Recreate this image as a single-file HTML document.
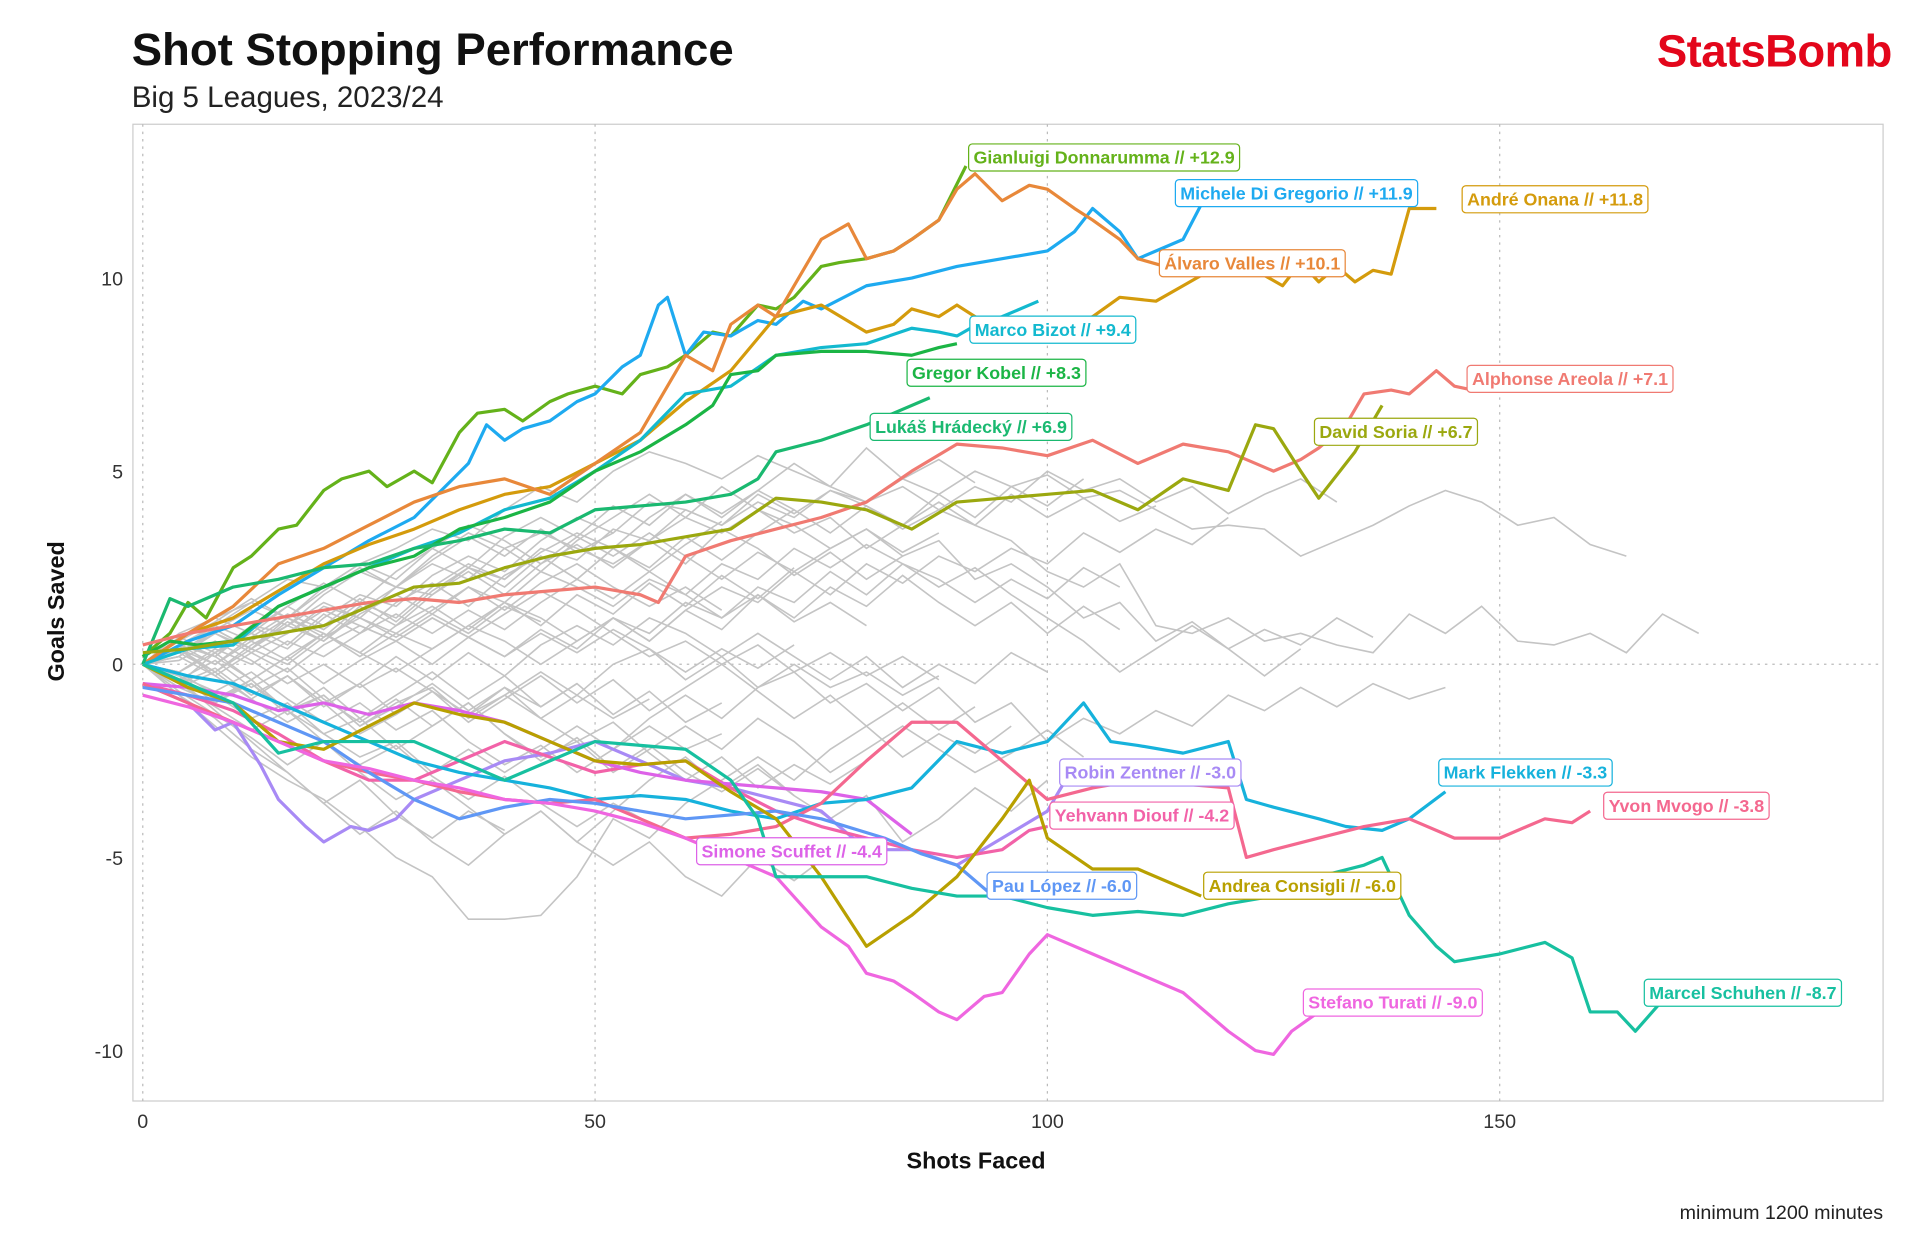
<!DOCTYPE html>
<html><head><meta charset="utf-8"><style>
html,body{margin:0;padding:0;background:#fff;}
svg{display:block;font-family:"Liberation Sans",sans-serif;}
</style></head><body>
<svg id="chart" width="1920" height="1240" viewBox="0 0 1560 1008" preserveAspectRatio="none">
<text x="107" y="53" font-size="37" font-weight="bold" fill="#111">Shot Stopping Performance</text>
<text x="107" y="87" font-size="24" fill="#222">Big 5 Leagues, 2023/24</text>
<text x="1537" y="54" font-size="37" font-weight="bold" fill="#e3061b" text-anchor="end" letter-spacing="-0.5">StatsBomb</text>
<rect x="108" y="101" width="1422" height="794" fill="#fff" stroke="#ccc" stroke-width="1"/>
<g id="grid"></g><g id="grey"></g><g id="hl"></g><g id="labels"></g><g id="axes"></g>
<text transform="translate(52,497) rotate(-90)" font-size="19" font-weight="bold" text-anchor="middle" fill="#111">Goals Saved</text>
<text x="793" y="950" font-size="19" font-weight="bold" text-anchor="middle" fill="#111">Shots Faced</text>
<text x="1530" y="991" font-size="16" text-anchor="end" fill="#222">minimum 1200 minutes</text>
</svg>
<script>
const xTicks=[0,50,100,150];
const yTicks=[-10,-5,0,5,10];
const greyStep=4;
const greySeries=[
[0,0.5,0.2,1,0.8,1.5,1.2,2,1.8,2.5,2.2,3,2.7,3.5,3.2,4,3.6,4.2,3.8,4.5,4.2,4.8,4.4,5,4.6,4.9,4.3,4.5,4,3.5,3.6,3.5,2.8,3.2,3.6,4.1,4.5,4.2,3.6,3.8,3.1,2.8],
[0,0.8,1.2,1.6,2.2,2,2.6,3,3.5,3.2,4,4.6,4.2,5,5.5,5.2,4.8,5.4,5,4.6,4.2,4.6,4,3.6,3.2,2.4,2,2.6,1,0.8,1.2,0.6,0.8,0.5,0.3,1.3,0.8,1.5,0.6,0.5,0.8,0.3,1.3,0.8],
[0,-0.5,0.3,0.8,0.4,1.2,1.8,1.5,2.3,2.8,2.4,3.2,3.8,3.4,4.2,4,3.6,4.4,3.9,4.5,4.1,3.5,4,4.6,4.2,5,4.5,4.8,4.2,4.6,3.9,4.4,4.8,4.2],
[0,0.4,-0.2,0.5,1,0.6,1.4,2,2.6,2.2,3,3.4,3,2.6,3.2,3.8,3.4,4,3.6,3,3.5,2.8,3.2,2.2,2.6,2,1.2,1.6,0.6,1.1,0.4,0.9,0.5,1.2,0.7],
[0,-0.6,-1,-0.4,-1.2,-0.8,-1.6,-1,-0.6,-1.4,-0.8,-0.2,-0.8,0,0.4,-0.4,0.2,-0.6,-0.2,-1,-0.5,-1.2,-0.6,-1.5,-1,-2,-1.4,-1.8,-1.2,-1.6,-0.8,-1.2,-0.6,-1.1,-0.5,-0.9,-0.6],
[0,0.2,0.8,0.4,1,1.6,1.2,0.8,1.4,2,1.6,2.4,2,1.5,2.2,1.8,2.6,2.2,3,2.5,3.1,2.6,2,2.5,1.8,1.2,0.6,-0.2,0.4,1,0.4,-0.3,0.4],
[0,-0.8,-1.6,-2.4,-3,-3.5,-4.2,-5,-5.5,-6.6,-6.6,-6.5,-5.5,-4,-4.5,-3.6,-3,-2.4,-3,-2.2,-1.6,-2.4,-1.8,-2.3,-1.6],
[0,-0.4,-1.2,-2,-2.8,-3.6,-4.4,-3.8,-4.6,-5.2,-4.4,-3.8,-4.6,-3.8,-3,-2.4,-3.2,-2.6,-3.4,-4,-3.4,-4.6,-4,-3.2,-3.8,-3],
[0,0.6,0.2,-0.4,0.2,0.8,0.3,-0.2,0.4,1,0.6,0,0.6,1.2,0.6,1.4,2,1.6,2.4,1.8,2.6,2.1,2.8,2.4,3,2.6,3.4,2.9,3.5,3.1,3.8],
[0,0.3,0.9,1.4,1,1.8,2.4,2,2.8,3.4,3,2.4,3.2,3.8,4.4,3.8,4.6,4,3.4,3.8,3,3.6,4.2,3.6,4.4,3.8,4.3,3.7,4.1],
[0,-0.3,-0.9,-0.4,-1.2,-1.8,-1.4,-2.2,-1.6,-1,-1.8,-2.4,-2,-2.8,-2.2,-1.6,-2.2,-1.4,-2,-2.8,-2.2,-1.6,-2.2,-2.8,-2.3,-1.7,-2.4],
[0,0.5,1,0.6,1.2,0.8,0.2,0.8,0.4,1,1.6,1.2,0.6,1.2,0.8,1.6,1.2,2,1.6,2.4,1.8,2.6,2.2,1.6,2.2,1.7,2.5,2],
[0,-0.5,-0.1,-0.8,-0.3,-1,-0.5,0.2,-0.4,0.3,-0.3,0.5,1,0.5,1.2,0.8,0.2,0.8,0.2,-0.4,0.2,-0.6,0,-0.5,0.3,-0.2],
[0,0.4,1,1.6,1.2,2,2.6,2.2,3,3.6,3.2,2.6,3.3,2.8,3.4,2.8,2.2,2.9,2.4,3,3.5,2.9,3.4],
[0,-0.2,-0.8,-1.4,-1,-1.8,-2.4,-2,-2.8,-2.2,-2.8,-2.2,-1.6,-2.2,-1.4,-0.8,-1.4,-0.6,0,-0.6,-0.2,-0.8,-0.3],
[0,0.3,0.8,0.3,0.8,1.4,1,0.6,1.2,0.7,1.3,1.9,1.4,0.8,0.2,0.6,0,0.5,-0.2,0.3,-0.3,0.2,-0.4],
[0,-0.4,-0.9,-0.5,-1.3,-0.8,-1.6,-1.1,-0.5,-1.2,-0.6,-1.4,-2,-1.5,-2.3,-3,-2.4,-3.2,-2.6,-3.1,-2.5],
[0,0.6,1.2,0.8,1.5,2.1,1.6,2.4,3,2.5,3.3,3.8,3.3,4.1,3.6,4.4,3.8,4.5,5.2,4.6,5.6,4.8,5.3,4.7],
[0,-0.2,0.4,0,0.6,0.2,0.8,1.3,0.8,1.4,0.9,1.6,2.2,1.7,2.4,1.8,1.2,1.8,1.1,1.6,1],
[0,-0.7,-1.3,-1.9,-2.6,-2,-2.8,-3.5,-3,-3.7,-4.4,-3.8,-4.6,-5.2,-4.6,-5.5,-6,-5,-5.6,-4.9],
[0,0.2,-0.3,0.3,-0.2,0.5,1,0.6,1.2,0.7,0.2,0.8,0.3,0.9,0.4,-0.2,0.4,-0.1,0.5],
[0,0.4,0,0.7,1.3,0.9,1.6,1.2,2,2.6,2.2,2.9,3.4,3,3.8,4.4,3.9,4.5,4],
[0,-0.3,-0.7,-0.2,-0.9,-1.5,-1,-1.7,-1.2,-2,-2.6,-2.1,-2.8,-2.2,-1.6,-2.2,-1.8],
[0,0.5,0.9,0.4,1.1,0.6,1.3,1.8,1.3,2,1.4,2.1,2.6,2,1.5,2,1.4],
[0,-0.5,-1.1,-1.7,-1.2,-2,-2.6,-2.1,-2.9,-3.5,-2.9,-3.6,-4.2,-3.6,-4.1],
[0,0.1,0.6,0.1,-0.5,0,-0.6,-0.1,-0.7,-1.3,-0.8,-1.4,-0.8,-1.4,-0.9],
[0,0.6,1.1,1.7,1.2,1.9,2.5,2,2.7,3.3,2.8,3.5,2.9,3.4],
[0,-0.6,-0.2,-0.9,-1.5,-1,-1.8,-1.3,-0.7,-1.3,-0.6,-1.1,-0.5],
[0,0.3,-0.2,0.4,0,0.7,1.2,0.7,1.3,0.8,1.5,1.1],
[0,-0.8,-1.4,-2.2,-2.8,-3.6,-3,-3.9,-4.5,-3.8,-4.3],
[0,0.7,0.3,1,0.5,1.3,0.8,1.6,2.1,1.5,2.3,2.8,2.2,3,2.5,3.3,2.7,3.4,4,3.4,4.1,3.6,4.4,3.8,4.6,4.1,4.8],
[0,-0.2,0.3,-0.4,0.2,-0.5,0.1,0.6,0,0.7,0.2,0.9,0.4,1.2,0.6,1.4,0.9,1.8,1.2,2,1.5,2.3,1.6,1,1.6,0.8,1.5,0.9],
[0,0.4,-0.3,-0.9,-0.3,-1.1,-0.5,-1.3,-0.7,-1.5,-0.9,-0.3,-1,-0.4,-1.2,-0.6,0,-0.7,-1.4,-0.8,-1.6,-1,-1.7,-1.1],
[0,0.2,0.9,0.4,1.2,0.7,1.5,1,1.8,2.4,1.8,2.6,3.1,2.5,3.2,2.6,3.5,3,2.3,2.9,2.2,2.8],
[0,-0.4,0.1,-0.6,-0.1,-0.9,-1.5,-0.9,-1.6,-1,-1.8,-2.5,-1.9,-2.7,-2.1,-2.8,-3.3,-2.7,-3.4],
[0,0.5,0,0.6,0.1,0.8,0.3,1,1.5,0.9,1.6,1,1.8,1.3,2.1,1.5,2.3,1.7,2.5],
[0,-0.3,-1,-0.5,-1.2,-0.6,-1.4,-0.8,-0.2,-0.9,-0.3,-1.1,-0.5,-1.3,-0.7,-1.5,-1],
[0,0.6,0.2,0.9,1.5,1,1.7,1.1,1.9,2.5,2,2.8,2.2,3,2.4,3.1,3.7]
];
const hlNames=["Gianluigi Donnarumma // +12.9","Michele Di Gregorio // +11.9","André Onana // +11.8","Álvaro Valles // +10.1","Marco Bizot // +9.4","Gregor Kobel // +8.3","Lukáš Hrádecký // +6.9","Alphonse Areola // +7.1","David Soria // +6.7","Robin Zentner // -3.0","Yehvann Diouf // -4.2","Simone Scuffet // -4.4","Mark Flekken // -3.3","Yvon Mvogo // -3.8","Pau López // -6.0","Andrea Consigli // -6.0","Stefano Turati // -9.0","Marcel Schuhen // -8.7"];
const hlColors=["#64b21a","#1eaaf0","#d49b0c","#e8883a","#13b9cf","#1bb545","#1ab970","#f07a72","#9ba80f","#a88af5","#f262a8","#dd62e8","#16b2dc","#f4688f","#5f97f5","#b8a000","#ef66e0","#17c0a0"];
const hlX=[
[0,3,5,7,10,12,15,17,20,22,25,27,30,32,35,37,40,42,45,47,50,53,55,58,60,63,65,68,70,72,75,77,80,83,85,88,91],
[0,5,10,15,20,25,30,33,36,38,40,42,45,48,50,53,55,57,58,60,62,65,68,70,73,75,80,85,90,95,100,103,105,108,110,113,115,117],
[0,5,10,15,20,25,30,35,40,45,50,55,60,65,70,75,80,83,85,88,90,92,95,100,105,108,112,115,118,120,123,126,128,130,132,134,136,138,140,143],
[0,5,10,15,20,25,30,35,40,45,50,55,60,63,65,68,70,73,75,78,80,83,85,88,90,92,95,98,100,103,105,108,110,113,115],
[0,5,10,15,20,25,30,35,40,45,50,55,60,65,70,75,80,85,88,90,93,95,99],
[0,3,6,10,15,20,25,30,35,40,45,50,55,60,63,65,68,70,75,80,85,88,90],
[0,3,5,10,15,20,25,30,35,40,45,50,55,60,65,68,70,75,80,83,87],
[0,5,10,15,20,25,30,35,40,45,50,55,57,60,65,70,75,80,85,90,95,100,105,110,115,120,125,128,130,133,135,138,140,143,145,147],
[0,5,10,15,20,25,30,35,40,45,50,55,60,65,70,75,80,85,90,95,100,105,110,115,120,123,125,128,130,134,137],
[0,3,5,8,10,13,15,18,20,23,25,28,30,35,40,45,50,55,60,65,70,75,80,85,90,95,100,102],
[0,5,10,15,20,25,30,35,40,45,50,55,60,65,70,75,80,85,90,95,98,100],
[0,5,10,15,20,25,30,35,40,45,50,55,60,65,70,75,80,85],
[0,5,10,15,20,25,30,35,40,45,50,55,60,65,70,75,80,85,90,95,100,104,107,110,115,120,122,125,130,133,137,140,144],
[0,5,10,15,20,25,30,35,40,45,50,55,60,65,70,75,80,85,90,95,100,105,110,115,120,122,125,130,135,140,145,150,153,155,158,160],
[0,5,10,15,20,25,30,35,40,45,50,55,60,65,70,75,82,86,90,94],
[0,5,10,15,20,25,30,35,40,45,50,55,60,65,70,75,80,85,90,95,98,100,105,110,117],
[0,5,10,15,20,25,30,35,40,45,50,55,60,65,70,75,78,80,83,85,88,90,93,95,98,100,105,110,115,120,123,125,127,130],
[0,5,10,15,20,25,30,35,40,45,50,55,60,65,68,70,75,80,85,90,95,100,105,110,115,120,125,130,135,137,140,143,145,150,155,158,160,163,165,168]
];
const hlY=[
[0.2,0.8,1.6,1.2,2.5,2.8,3.5,3.6,4.5,4.8,5,4.6,5,4.7,6,6.5,6.6,6.3,6.8,7,7.2,7,7.5,7.7,8,8.6,8.5,9.3,9.2,9.5,10.3,10.4,10.5,10.7,11,11.5,12.9],
[0,0.6,1,1.8,2.5,3.2,3.8,4.5,5.2,6.2,5.8,6.1,6.3,6.8,7,7.7,8,9.3,9.5,8,8.6,8.5,8.9,8.8,9.4,9.2,9.8,10,10.3,10.5,10.7,11.2,11.8,11.2,10.5,10.8,11,11.9],
[0,0.8,1.2,1.9,2.6,3.1,3.5,4,4.4,4.6,5.2,5.8,6.8,7.6,9,9.3,8.6,8.8,9.2,9,9.3,9,8.7,8.5,9,9.5,9.4,9.8,10.2,10.6,10.2,9.8,10.4,9.9,10.3,9.9,10.2,10.1,11.8,11.8],
[0,0.8,1.5,2.6,3,3.6,4.2,4.6,4.8,4.4,5.2,6,8,7.6,8.8,9.3,9,10.2,11,11.4,10.5,10.7,11,11.5,12.3,12.7,12,12.4,12.3,11.8,11.5,11,10.5,10.3,10.1],
[0,0.4,0.5,1.5,2,2.5,3,3.4,4,4.3,5,5.8,7,7.2,8,8.2,8.3,8.7,8.6,8.5,8.9,9,9.4],
[0.2,0.6,0.5,0.6,1.5,2,2.5,2.8,3.5,3.8,4.2,5,5.5,6.2,6.7,7.5,7.6,8,8.1,8.1,8,8.2,8.3],
[0,1.7,1.5,2,2.2,2.5,2.6,3,3.2,3.5,3.4,4,4.1,4.2,4.4,4.8,5.5,5.8,6.2,6.5,6.9],
[0.5,0.8,1,1.2,1.4,1.6,1.7,1.6,1.8,1.9,2,1.8,1.6,2.8,3.2,3.5,3.8,4.2,5,5.7,5.6,5.4,5.8,5.2,5.7,5.5,5,5.3,5.6,6.2,7,7.1,7,7.6,7.2,7.1],
[0.3,0.4,0.6,0.8,1,1.5,2,2.1,2.5,2.8,3,3.1,3.3,3.5,4.3,4.2,4,3.5,4.2,4.3,4.4,4.5,4,4.8,4.5,6.2,6.1,5,4.3,5.5,6.7],
[-0.5,-0.8,-1,-1.7,-1.5,-2.6,-3.5,-4.2,-4.6,-4.2,-4.3,-4,-3.5,-3,-2.5,-2.3,-2,-2.5,-3,-3.2,-3.5,-3.8,-4.8,-4.8,-5.2,-4.5,-3.8,-3],
[-0.5,-0.8,-1.2,-1.8,-2.5,-3,-3,-2.5,-2,-2.4,-2.8,-2.6,-2.5,-3.2,-3.8,-4.2,-4.5,-4.8,-5,-4.8,-4.3,-4.2],
[-0.5,-0.6,-0.8,-1.2,-1,-1.3,-1,-1.2,-1.5,-2,-2.5,-2.8,-3,-3.1,-3.2,-3.3,-3.5,-4.4],
[0,-0.3,-0.5,-1,-1.5,-2,-2.5,-2.8,-3,-3.2,-3.5,-3.4,-3.5,-3.8,-4,-3.6,-3.5,-3.2,-2,-2.3,-2,-1,-2,-2.1,-2.3,-2,-3.5,-3.7,-4,-4.2,-4.3,-4,-3.3],
[-0.5,-1,-1.5,-2,-2.5,-2.8,-3,-3.3,-3.5,-3.6,-3.5,-4,-4.5,-4.4,-4.2,-3.6,-2.5,-1.5,-1.5,-2.5,-3.5,-3.2,-3,-3.1,-3.2,-5,-4.8,-4.5,-4.2,-4,-4.5,-4.5,-4.2,-4,-4.1,-3.8],
[-0.6,-0.8,-1,-1.5,-2,-2.8,-3.5,-4,-3.7,-3.5,-3.6,-3.8,-4,-3.9,-3.8,-4,-4.5,-4.9,-5.2,-6],
[0,-0.6,-1,-2,-2.2,-1.6,-1,-1.3,-1.5,-2,-2.5,-2.6,-2.5,-3.3,-4,-5.5,-7.3,-6.5,-5.5,-4,-3,-4.5,-5.3,-5.3,-6],
[-0.8,-1.1,-1.5,-2,-2.5,-2.7,-3,-3.2,-3.5,-3.6,-3.8,-4.1,-4.5,-5,-5.5,-6.8,-7.3,-8,-8.2,-8.5,-9,-9.2,-8.6,-8.5,-7.5,-7,-7.5,-8,-8.5,-9.5,-10,-10.1,-9.5,-9],
[0,-0.5,-1,-2.3,-2,-2,-2,-2.5,-3,-2.5,-2,-2.1,-2.2,-3,-4,-5.5,-5.5,-5.5,-5.8,-6,-6,-6.3,-6.5,-6.4,-6.5,-6.2,-6,-5.5,-5.2,-5,-6.5,-7.3,-7.7,-7.5,-7.2,-7.6,-9,-9,-9.5,-8.7]
];
const NS="http://www.w3.org/2000/svg";
const X0=116,XS=7.35,Y0=540,YS=31.4;
const sx=v=>X0+v*XS, sy=v=>Y0-v*YS;
function mk(tag,parent,attrs){const e=document.createElementNS(NS,tag);for(const k in attrs)e.setAttribute(k,attrs[k]);parent.appendChild(e);return e;}
const grid=document.getElementById('grid'),axes=document.getElementById('axes');
xTicks.forEach(t=>{
 const l=mk('line',grid,{x1:sx(t),x2:sx(t),y1:101,y2:895,stroke:'#bbb','stroke-dasharray':'2,4','stroke-width':1});
 
 
 const tx=mk('text',axes,{x:sx(t),y:917,'font-size':16,'text-anchor':'middle',fill:'#333'});tx.textContent=t;
 
 
});
yTicks.forEach(t=>{
 const tx=mk('text',axes,{x:100,y:sy(t)+6,'font-size':16,'text-anchor':'end',fill:'#333'});tx.textContent=t;
 
 
});
const zl=mk('line',grid,{x1:108,x2:1530,y1:sy(0),y2:sy(0),stroke:'#bbb','stroke-dasharray':'2,4'});


const gg=document.getElementById('grey');
greySeries.forEach(s=>{
 const p=mk('polyline',gg,{points:s.map((v,i)=>sx(i*greyStep)+','+sy(v)).join(' '),fill:'none',stroke:'#c4c4c4','stroke-width':1.3});
 
 
});
const hg=document.getElementById('hl'),lg=document.getElementById('labels');
const labelBoxes=[[787,128],[955,157],[1188,162],[942,214],[788,268],[737,303],[707,347],[1192,308],[1068,351],[861,628],[853,663],[566,692],[1169,628],[1303,655],[802,720],[978,720],[1059,815],[1336,807]];
hlNames.forEach((n,k)=>{
 const p=mk('polyline',hg,{points:hlX[k].map((x,i)=>sx(x)+','+sy(hlY[k][i])).join(' '),fill:'none',stroke:hlColors[k],'stroke-width':2.6,'stroke-linejoin':'round'});
 
 
 const g=mk('g',lg,{});
 
 
 const [bx,by]=labelBoxes[k];
 const r=mk('rect',g,{x:bx,y:by-11,rx:3,height:22,width:100,fill:'#fff',stroke:hlColors[k],'stroke-width':1});
 const t=mk('text',g,{x:bx+4,y:by+5,'font-size':14.5,'font-weight':'bold',fill:hlColors[k]});t.textContent=n;
 r.setAttribute('width',t.getComputedTextLength()+8);
});
</script>
</body></html>
